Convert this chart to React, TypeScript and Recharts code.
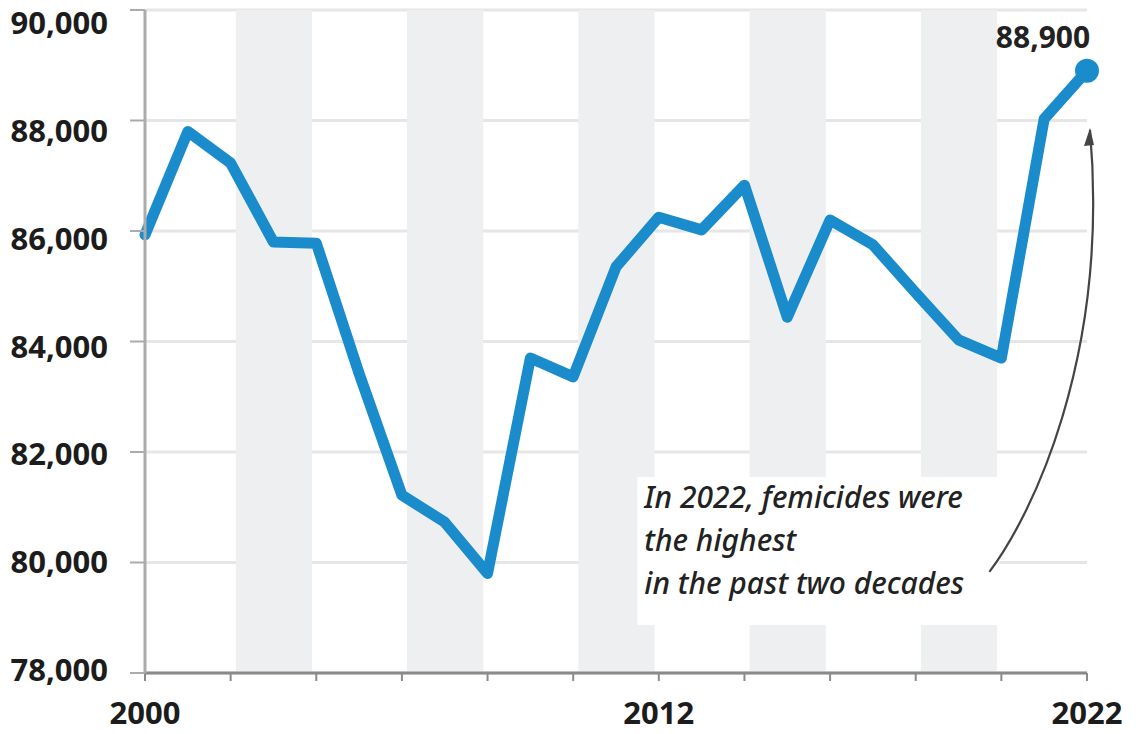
import { CartesianGrid, Line, LineChart, ReferenceArea, ReferenceLine, XAxis, YAxis } from "recharts";

const years = [
  2000, 2001, 2002, 2003, 2004, 2005, 2006, 2007, 2008, 2009, 2010,
  2011, 2012, 2013, 2014, 2015, 2016, 2017, 2018, 2019, 2020, 2021, 2022,
];
const values = [
  85930, 87800, 87230, 85800, 85780, 83420, 81220, 80730, 79800, 83700, 83360,
  85350, 86250, 86020, 86830, 84440, 86200, 85750, 84880, 84030, 83700, 88030, 88900,
];
const xTicks = [2000, 2002, 2004, 2006, 2008, 2010, 2012, 2014, 2016, 2018, 2020, 2022];
const xLabels = [2000, 2012, 2022];
const yTicks = [78000, 80000, 82000, 84000, 86000, 88000, 90000];
const bandStarts = [2002, 2006, 2010, 2014, 2018];
const noteLines = ["In 2022, femicides were", "the highest", "in the past two decades"];
const arrowFrom = { x: 2019.72, y: 79830 };
const arrowTo = { x: 2022, y: 87830 };

const data = years.map((year, i) => ({ year, value: values[i] }));

const BLUE = "#1a8ccc";
const FONT = "'Noto Sans', 'DejaVu Sans', sans-serif";

const fmt = (v: number) => v.toLocaleString("en-US");

// y labels sit a bit below their gridline near the top, a bit above near the bottom
function YTick(props: any) {
  const { x, y, payload } = props;
  const shift = 12 - 16 * ((y - 10) / 663);
  return (
    <text
      x={x}
      y={y + shift}
      textAnchor="end"
      dominantBaseline="central"
      fontFamily={FONT}
      fontWeight={700}
      fontSize={31}
      fill="#1c1c1c"
    >
      {fmt(payload.value)}
    </text>
  );
}

function EndDot(props: any) {
  const { cx, cy, index, value } = props;
  if (index !== data.length - 1) return <g key={`d${index}`} />;
  return (
    <g key={`d${index}`}>
      <circle cx={cx} cy={cy} r={12} fill={BLUE} />
      <text
        x={cx - 44}
        y={cy - 31}
        textAnchor="middle"
        dominantBaseline="middle"
        fontFamily={FONT}
        fontWeight={700}
        fontSize={30}
        fill="#222"
      >
        {fmt(Array.isArray(value) ? value[1] : value)}
      </text>
    </g>
  );
}

function NoteArrow(props: any) {
  const { x1, y1, x2, y2 } = props;
  if (x1 == null || y1 == null) return <g />;
  const ex = x2 + 3;
  const ey = y2;
  const dx = ex - x1;
  const dy = ey - y1;
  const c1x = x1 + 0.4 * dx;
  const c1y = y1 + 0.12 * dy;
  const c2x = ex + 20;
  const c2y = ey - 0.52 * dy;
  return (
    <g>
      <rect x={x1 - 352} y={y1 - 95} width={362} height={148} fill="#fff" />
      {noteLines.map((line, i) => (
        <text
          key={line}
          x={x1 - 345}
          y={y1 - 64 + i * 43}
          fontFamily={FONT}
          fontStyle="italic"
          fontWeight={500}
          fontSize={30}
          fill="#222"
        >
          {line}
        </text>
      ))}
      <path
        d={`M${x1},${y1} C${c1x},${c1y} ${c2x},${c2y} ${ex},${ey}`}
        fill="none"
        stroke="#444"
        strokeWidth={2.2}
      />
      <path d={`M${ex},${ey - 2} L${ex - 6},${ey + 16} L${ex + 4},${ey + 15} Z`} fill="#444" />
    </g>
  );
}

export default function App() {
  return (
    <div style={{ position: "absolute", left: 0, top: 0, width: 1136, height: 734, background: "#fff" }}>
      <LineChart width={1136} height={734} data={data} margin={{ top: 10, right: 49, left: 15, bottom: 0 }}>
        {bandStarts.map((s) => (
          <ReferenceArea
            key={s}
            x1={s + 0.12}
            x2={s + 1.9}
            fill="#eeeff1"
            fillOpacity={1}
            stroke="none"
            ifOverflow="visible"
          />
        ))}
        <CartesianGrid vertical={false} stroke="#e6e6e6" strokeWidth={3} />
        <XAxis
          dataKey="year"
          type="number"
          domain={[2000, 2022]}
          ticks={xTicks}
          interval={0}
          height={61}
          tickFormatter={(v: number) => (xLabels.includes(v) ? String(v) : "")}
          axisLine={{ stroke: "#8a8a8a", strokeWidth: 3 }}
          tickLine={{ stroke: "#8a8a8a", strokeWidth: 2 }}
          tickSize={8}
          tickMargin={21}
          tick={{ fontSize: 31, fontWeight: 700, fill: "#1c1c1c", fontFamily: FONT }}
        />
        <YAxis
          type="number"
          domain={[78000, 90000]}
          ticks={yTicks}
          interval={0}
          width={130}
          axisLine={{ stroke: "#ababab", strokeWidth: 3 }}
          tickLine={{ stroke: "#ababab", strokeWidth: 2 }}
          tickSize={15}
          tickMargin={22}
          tick={(p: any) => <YTick {...p} />}
        />
        <ReferenceLine
          segment={[arrowFrom, arrowTo]}
          ifOverflow="visible"
          shape={(p: any) => <NoteArrow {...p} />}
        />
        <Line
          type="linear"
          dataKey="value"
          stroke={BLUE}
          strokeWidth={11}
          strokeLinejoin="round"
          strokeLinecap="round"
          dot={(p: any) => <EndDot {...p} />}
          activeDot={false}
          isAnimationActive={false}
        />
      </LineChart>
    </div>
  );
}
